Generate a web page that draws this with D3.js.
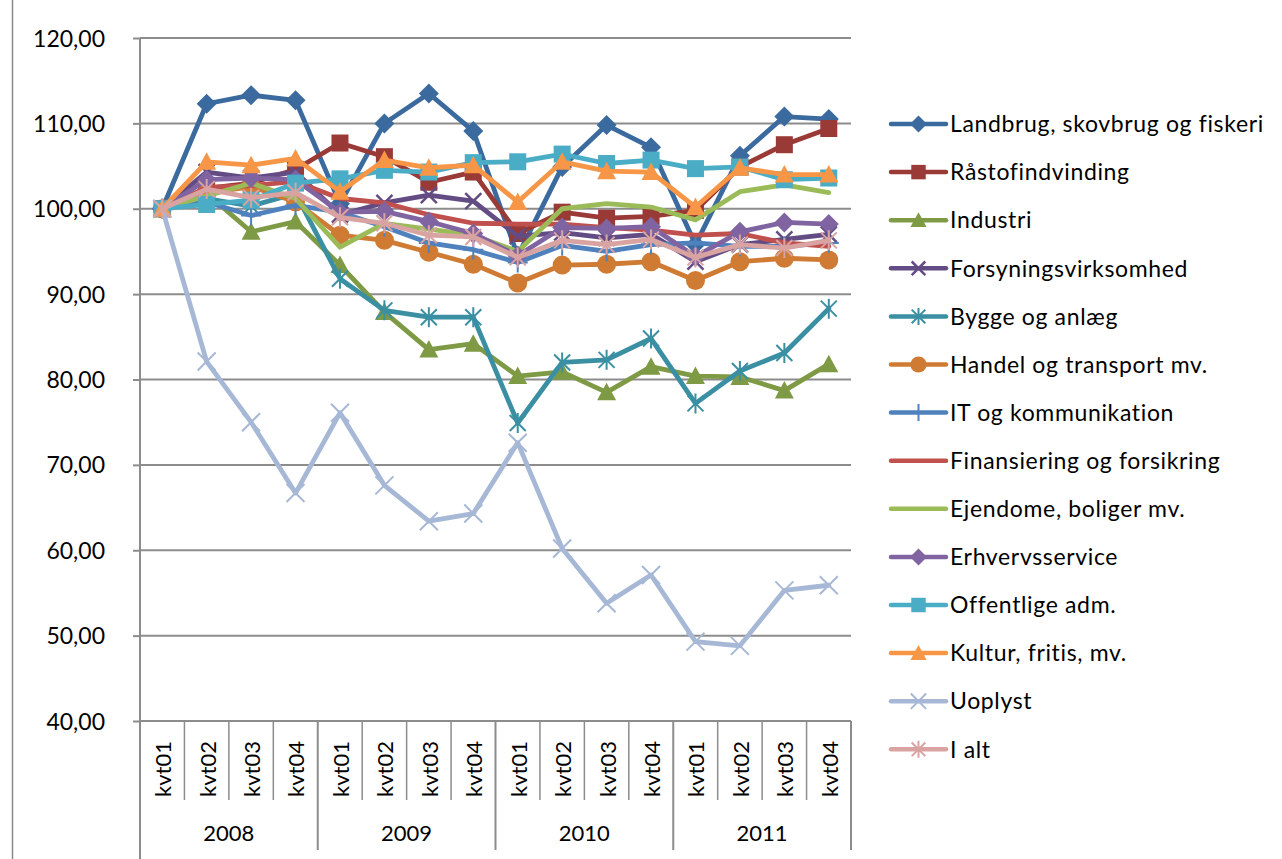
<!DOCTYPE html>
<html>
<head>
<meta charset="utf-8">
<script src="https://cdn.jsdelivr.net/npm/d3@7"></script>
<style>
  html, body { margin: 0; padding: 0; background: #fff; }
  svg { display: block; }
</style>
</head>
<body>
<svg id="chart" width="1282" height="859"></svg>
<script>
// Quarterly index by industry, 2008 kvt01 = 100
const years = ["2008", "2009", "2010", "2011"];
const quarters = ["kvt01", "kvt02", "kvt03", "kvt04"];
const categories = years.flatMap(y => quarters.map(q => y + " " + q));
const yTicks = [40, 50, 60, 70, 80, 90, 100, 110, 120];

const landbrug   = [100.0, 112.3, 113.3, 112.7, 100.6, 110.0, 113.5, 109.1, 94.5, 104.9, 109.8, 107.2, 95.8, 106.2, 110.8, 110.5];
const raastof    = [100.0, 102.4, 103.0, 104.6, 107.7, 106.1, 103.1, 104.3, 97.1, 99.6, 98.9, 99.1, 99.8, 104.9, 107.5, 109.4];
const industri   = [100.0, 101.8, 97.3, 98.5, 93.4, 87.9, 83.5, 84.2, 80.4, 80.9, 78.5, 81.5, 80.4, 80.3, 78.7, 81.8];
const forsyning  = [100.0, 104.3, 103.6, 104.3, 99.3, 100.7, 101.6, 100.9, 96.8, 97.2, 96.6, 97.0, 93.8, 95.8, 96.4, 97.0];
const bygge      = [100.0, 101.2, 100.3, 101.8, 91.8, 88.1, 87.3, 87.3, 74.9, 82.0, 82.3, 84.8, 77.2, 81.0, 83.1, 88.3];
const handel     = [100.0, 101.8, 102.6, 100.8, 96.9, 96.3, 94.9, 93.5, 91.3, 93.4, 93.5, 93.8, 91.6, 93.8, 94.2, 94.0];
const itKomm     = [100.0, 100.8, 99.2, 100.4, 99.6, 97.9, 96.0, 95.2, 93.7, 95.7, 95.0, 95.8, 96.0, 95.6, 95.6, 96.0];
const finans     = [100.0, 102.5, 102.7, 103.2, 101.2, 100.7, 99.3, 98.3, 98.2, 98.2, 97.8, 97.5, 96.9, 97.1, 96.0, 95.6];
const ejendome   = [100.0, 101.5, 103.0, 101.2, 95.5, 98.3, 97.6, 96.9, 95.0, 100.0, 100.6, 100.2, 98.7, 102.0, 102.8, 101.9];
const erhverv    = [100.0, 103.4, 103.6, 103.4, 99.6, 99.7, 98.5, 97.1, 94.5, 97.8, 97.7, 97.9, 94.4, 97.3, 98.4, 98.2];
const offentlige = [100.0, 100.5, 101.0, 103.0, 103.5, 104.5, 104.3, 105.4, 105.5, 106.4, 105.3, 105.7, 104.7, 104.9, 103.4, 103.6];
const kultur     = [100.0, 105.5, 105.1, 105.9, 102.0, 105.7, 104.8, 105.1, 100.8, 105.5, 104.4, 104.3, 100.2, 104.8, 104.0, 104.0];
const uoplyst    = [100.0, 82.1, 75.0, 66.7, 76.1, 67.6, 63.4, 64.3, 72.6, 60.2, 53.8, 57.1, 49.3, 48.8, 55.3, 55.9];
const iAlt       = [100.0, 102.3, 101.3, 101.9, 99.0, 98.3, 96.9, 96.7, 94.3, 96.3, 95.8, 96.4, 94.3, 95.8, 95.4, 96.3];

const seriesNames = [
  "Landbrug, skovbrug og fiskeri", "Råstofindvinding", "Industri", "Forsyningsvirksomhed",
  "Bygge og anlæg", "Handel og transport mv.", "IT og kommunikation", "Finansiering og forsikring",
  "Ejendome, boliger mv.", "Erhvervsservice", "Offentlige adm.", "Kultur, fritis, mv.",
  "Uoplyst", "I alt"
];
const seriesValues = [landbrug, raastof, industri, forsyning, bygge, handel, itKomm, finans,
  ejendome, erhverv, offentlige, kultur, uoplyst, iAlt];
const seriesColors = ["#3B6A9E", "#9A3A37", "#7E9A45", "#634C84", "#3A8FA3", "#CF7B34",
  "#4F81BD", "#C0504D", "#9BBB59", "#8064A2", "#4BACC6", "#F79646", "#A7B8D6", "#D9A3A2"];
const seriesMarkers = ["diamond", "square", "triangle", "x", "asterisk", "circle",
  "plus", "none", "none", "diamond", "square", "triangle", "xthin", "asterisk"];

const series = seriesNames.map((name, i) => ({
  name, values: seriesValues[i], color: seriesColors[i], marker: seriesMarkers[i]
}));

const svg = d3.select("#chart");
const plotLeft = 140, plotRight = 851, plotTop = 38, plotBottom = 721;
const FONT = "Lato, 'Open Sans', sans-serif";

const x = d3.scaleBand().domain(categories).range([plotLeft, plotRight]);
const cx = c => x(c) + x.bandwidth() / 2;
const y = d3.scaleLinear().domain([40, 120]).range([plotBottom, plotTop]);

// Outer frame on the left
svg.append("line").attr("x1", 12.5).attr("x2", 12.5).attr("y1", 0).attr("y2", 859)
  .attr("stroke", "#8a8a8a").attr("stroke-width", 1.5);

// Horizontal gridlines
svg.append("g").selectAll("line").data(yTicks).join("line")
  .attr("x1", plotLeft).attr("x2", plotRight)
  .attr("y1", d => y(d)).attr("y2", d => y(d))
  .attr("stroke", "#8c8c8c").attr("stroke-width", 2);

// Value axis
const yAxis = d3.axisLeft(y).tickValues(yTicks).tickSize(7).tickPadding(28)
  .tickFormat(d => d3.format(".2f")(d).replace(".", ","));
const gy = svg.append("g").attr("transform", `translate(${plotLeft},0)`).call(yAxis);
gy.select(".domain").remove();
gy.selectAll(".tick line").attr("stroke", "#8c8c8c").attr("stroke-width", 2);
gy.selectAll(".tick text").attr("font-family", FONT).attr("font-size", 23)
  .attr("fill", "#000").attr("dy", "0.35em");

// Vertical value axis line continues down through the category box
svg.append("line").attr("x1", plotLeft).attr("x2", plotLeft).attr("y1", plotTop).attr("y2", 859)
  .attr("stroke", "#8c8c8c").attr("stroke-width", 2);

// Category box: quarter and year dividers
const catG = svg.append("g");
categories.forEach((c, i) => {
  if (i === 0) return;
  const xx = x(c);
  const yearEdge = i % 4 === 0;
  catG.append("line").attr("x1", xx).attr("x2", xx)
    .attr("y1", plotBottom).attr("y2", yearEdge ? 850 : 800)
    .attr("stroke", "#8c8c8c").attr("stroke-width", yearEdge ? 2 : 1.5);
});
catG.append("line").attr("x1", plotRight).attr("x2", plotRight).attr("y1", plotBottom).attr("y2", 850)
  .attr("stroke", "#8c8c8c").attr("stroke-width", 2);

// Quarter labels (rotated)
catG.selectAll("text.q").data(categories).join("text")
  .attr("class", "q")
  .attr("transform", d => `translate(${cx(d) + 1},769) rotate(-90)`)
  .attr("text-anchor", "middle").attr("dy", "0.36em")
  .attr("font-family", FONT).attr("font-size", 22).attr("fill", "#000")
  .text(d => d.split(" ")[1]);

// Year labels
catG.selectAll("text.yr").data(years).join("text")
  .attr("class", "yr")
  .attr("x", yr => {
    const first = categories.indexOf(yr + " kvt01");
    return (x(categories[first]) + x(categories[first + 3]) + x.bandwidth()) / 2;
  })
  .attr("y", 833).attr("text-anchor", "middle").attr("dy", "0.36em")
  .attr("font-family", FONT).attr("font-size", 22).attr("fill", "#000")
  .text(d => d);

// Marker drawing
function drawMarker(g, type, color, s) {
  const r = 10 * s;
  switch (type) {
    case "diamond":
      g.append("path").attr("d", `M0,${-r}L${r},0L0,${r}L${-r},0Z`).attr("fill", color);
      break;
    case "square":
      g.append("rect").attr("x", -8.5 * s).attr("y", -8.5 * s)
        .attr("width", 17 * s).attr("height", 17 * s).attr("fill", color);
      break;
    case "triangle":
      g.append("path").attr("d", `M0,${-9.5 * s}L${9.5 * s},${8 * s}L${-9.5 * s},${8 * s}Z`).attr("fill", color);
      break;
    case "circle":
      g.append("circle").attr("r", 9.5 * s).attr("fill", color);
      break;
    case "x":
      g.append("path").attr("d", `M${-8 * s},${-8 * s}L${8 * s},${8 * s}M${-8 * s},${8 * s}L${8 * s},${-8 * s}`)
        .attr("stroke", color).attr("stroke-width", 2.5).attr("fill", "none");
      break;
    case "xthin":
      g.append("path").attr("d", `M${-9 * s},${-9 * s}L${9 * s},${9 * s}M${-9 * s},${9 * s}L${9 * s},${-9 * s}`)
        .attr("stroke", color).attr("stroke-width", 2).attr("fill", "none");
      break;
    case "asterisk":
      g.append("path").attr("d", `M${-8 * s},${-8 * s}L${8 * s},${8 * s}M${-8 * s},${8 * s}L${8 * s},${-8 * s}M0,${-10 * s}L0,${10 * s}`)
        .attr("stroke", color).attr("stroke-width", 2).attr("fill", "none");
      break;
    case "plus":
      g.append("path").attr("d", `M0,${-10 * s}L0,${10 * s}M${-10 * s},0L${10 * s},0`)
        .attr("stroke", color).attr("stroke-width", 2).attr("fill", "none");
      break;
  }
}

// Series lines and markers
const line = d3.line().x((v, i) => cx(categories[i])).y(v => y(v));
const plot = svg.append("g");
series.forEach(s => {
  const g = plot.append("g");
  g.append("path").datum(s.values).attr("d", line)
    .attr("fill", "none").attr("stroke", s.color).attr("stroke-width", 4.8)
    .attr("stroke-linejoin", "round").attr("stroke-linecap", "round");
  if (s.marker !== "none") {
    s.values.forEach((v, i) => {
      const mg = g.append("g").attr("transform", `translate(${cx(categories[i])},${y(v)})`);
      drawMarker(mg, s.marker, s.color, 1);
    });
  }
});

// Legend
const legend = svg.append("g");
series.forEach((s, i) => {
  const ly = 124 + i * 48.1;
  const g = legend.append("g").attr("transform", `translate(0,${ly})`);
  g.append("line").attr("x1", 891).attr("x2", 946).attr("y1", 0).attr("y2", 0)
    .attr("stroke", s.color).attr("stroke-width", 4.5).attr("stroke-linecap", "round");
  const mg = g.append("g").attr("transform", "translate(918.5,0)");
  drawMarker(mg, s.marker, s.color, 0.85);
  g.append("text").attr("x", 950).attr("y", 0).attr("dy", "0.36em")
    .attr("font-family", FONT).attr("font-size", 23).attr("letter-spacing", 0.65)
    .attr("fill", "#000")
    .text(s.name);
});
</script>
</body>
</html>
